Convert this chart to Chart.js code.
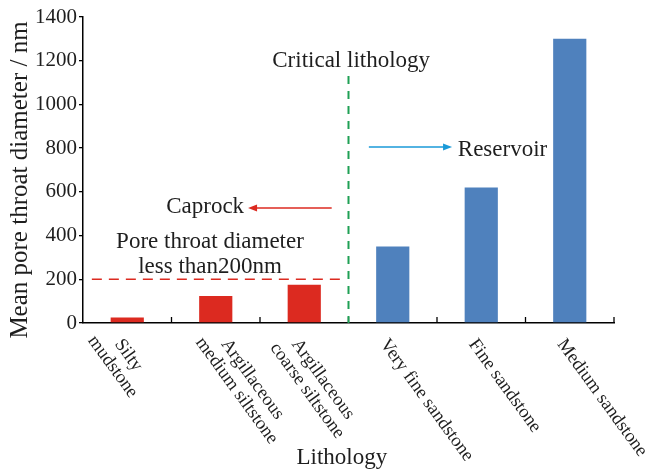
<!DOCTYPE html>
<html>
<head>
<meta charset="utf-8">
<script src="https://cdn.jsdelivr.net/npm/chart.js@4.4.1/dist/chart.umd.min.js"></script>
<style>
  html, body { margin: 0; padding: 0; background: #fff; }
  canvas { display: block; }
</style>
</head>
<body>
<canvas id="myChart" width="662" height="474"></canvas>
<script>
// lithology categories (multi-line labels) and mean pore throat diameter (nm)
const LITHOLOGY = [
    ['Silty', 'mudstone'],
    ['Argillaceous', 'medium siltstone'],
    ['Argillaceous', 'coarse siltstone'],
    ['Very fine sandstone'],
    ['Fine sandstone'],
    ['Medium sandstone']
];
const DIAMETER = [25, 123, 175, 350, 620, 1300];
const Y_TICKS = [0, 200, 400, 600, 800, 1000, 1200, 1400];
const THRESHOLD = 200;      // caprock limit, nm
const CAPROCK_COUNT = 3;    // first three lithologies are caprock

const RED = '#dc2a20';
const BLUE = '#4f81bd';
const GREEN = '#1fa055';
const TXT = '#1e1e1e';
const SERIF = "'Liberation Serif', 'DejaVu Serif', serif";

Chart.defaults.font.family = SERIF;
Chart.defaults.color = TXT;

let ctx = document.getElementById('myChart').getContext('2d');

function arrow(c, x1, y1, x2, y2, color) {
    const dir = Math.sign(x2 - x1);
    c.strokeStyle = color;
    c.fillStyle = color;
    c.lineWidth = 1.6;
    c.beginPath();
    c.moveTo(x1, y1);
    c.lineTo(x2 - dir * 6, y2);
    c.stroke();
    c.beginPath();
    c.moveTo(x2, y2);
    c.lineTo(x2 - dir * 9, y2 - 3.5);
    c.lineTo(x2 - dir * 9, y2 + 3.5);
    c.closePath();
    c.fill();
}

const decorations = {
    id: 'decorations',
    afterDraw(chart) {
        const c = chart.ctx;
        const xs = chart.scales.x, ys = chart.scales.y;
        const step = xs.getPixelForValue(1) - xs.getPixelForValue(0);
        const X = i => xs.getPixelForValue(0) + i * step;   // fractional category -> px
        const Y = v => ys.getPixelForValue(v);
        const bottom = chart.chartArea.bottom;
        c.save();

        // x tick marks (inward) at category boundaries
        c.strokeStyle = '#000';
        c.lineWidth = 1.3;
        for (let i = 0; i < LITHOLOGY.length; i++) {
            const x = X(i + 0.5);
            c.beginPath();
            c.moveTo(x, bottom);
            c.lineTo(x, bottom - 6);
            c.stroke();
        }

        // threshold line at 200 nm
        c.setLineDash([10, 7]);
        c.strokeStyle = RED;
        c.lineWidth = 1.6;
        c.beginPath();
        c.moveTo(X(-0.4), Y(THRESHOLD));
        c.lineTo(X(CAPROCK_COUNT - 0.58), Y(THRESHOLD));
        c.stroke();

        // critical lithology boundary
        c.setLineDash([8, 7]);
        c.strokeStyle = GREEN;
        c.lineWidth = 2;
        c.beginPath();
        c.moveTo(X(CAPROCK_COUNT - 0.5), Y(1130));
        c.lineTo(X(CAPROCK_COUNT - 0.5), bottom);
        c.stroke();
        c.setLineDash([]);

        arrow(c, X(2.73), Y(805), X(3.67), Y(805), '#1a9ad8');
        arrow(c, X(2.31), Y(526), X(1.365), Y(526), RED);

        c.fillStyle = TXT;
        c.textBaseline = 'middle';
        c.font = '23px ' + SERIF;
        c.textAlign = 'center';
        c.fillText('Critical lithology', X(2.53), Y(1200));
        c.fillText('Pore throat diameter', X(0.935), Y(370));
        c.fillText('less than200nm', X(0.935), Y(256));
        c.textAlign = 'left';
        c.fillText('Reservoir', X(3.735), Y(792));
        c.fillText('Caprock', X(0.44), Y(531));

        // axis titles
        c.textAlign = 'center';
        c.fillText('Lithology', X(2.425), 458);
        c.save();
        c.translate(20, 180);
        c.rotate(-Math.PI / 2);
        c.font = '25px ' + SERIF;
        c.fillText('Mean pore throat diameter / nm', 0, 0);
        c.restore();

        // rotated category labels
        const nudge = [0, 18, 0, 0, 0, 0];
        c.font = '18.5px ' + SERIF;
        c.textBaseline = 'alphabetic';
        c.textAlign = 'center';
        LITHOLOGY.forEach((lines, i) => {
            c.save();
            c.translate(X(i) - 13 + nudge[i], bottom + 21);
            c.rotate(54 * Math.PI / 180);
            const w0 = c.measureText(lines[0]).width;
            lines.forEach((ln, k) => c.fillText(ln, w0 / 2, k * 19.5));
            c.restore();
        });
        c.restore();
    }
};

let chart = new Chart(ctx, {
    type: 'bar',
    data: {
        labels: LITHOLOGY.map(l => l.join(' ')),
        datasets: [{
            label: 'Mean pore throat diameter',
            data: DIAMETER,
            backgroundColor: DIAMETER.map((v, i) => i < CAPROCK_COUNT ? RED : BLUE),
            categoryPercentage: 1,
            barPercentage: 0.375
        }]
    },
    options: {
        responsive: false,
        animation: false,
        layout: { padding: { top: 17, right: 48, left: 0, bottom: 0 } },
        plugins: { legend: { display: false }, tooltip: { enabled: false } },
        scales: {
            x: {
                ticks: { display: false },
                grid: { display: false },
                border: { color: '#000', width: 1.5 },
                afterFit: s => { s.height = 151; }
            },
            y: {
                min: 0,
                max: 1400,
                afterBuildTicks: s => { s.ticks = Y_TICKS.map(v => ({ value: v })); },
                ticks: {
                    color: TXT,
                    padding: 2,
                    font: { family: SERIF, size: 21 },
                    callback: v => String(v)
                },
                grid: { drawOnChartArea: false, tickLength: 4, color: '#000', lineWidth: 1.3 },
                border: { color: '#000', width: 1.5 },
                afterFit: s => { s.width = 83; }
            }
        }
    },
    plugins: [decorations]
});
</script>
</body>
</html>
